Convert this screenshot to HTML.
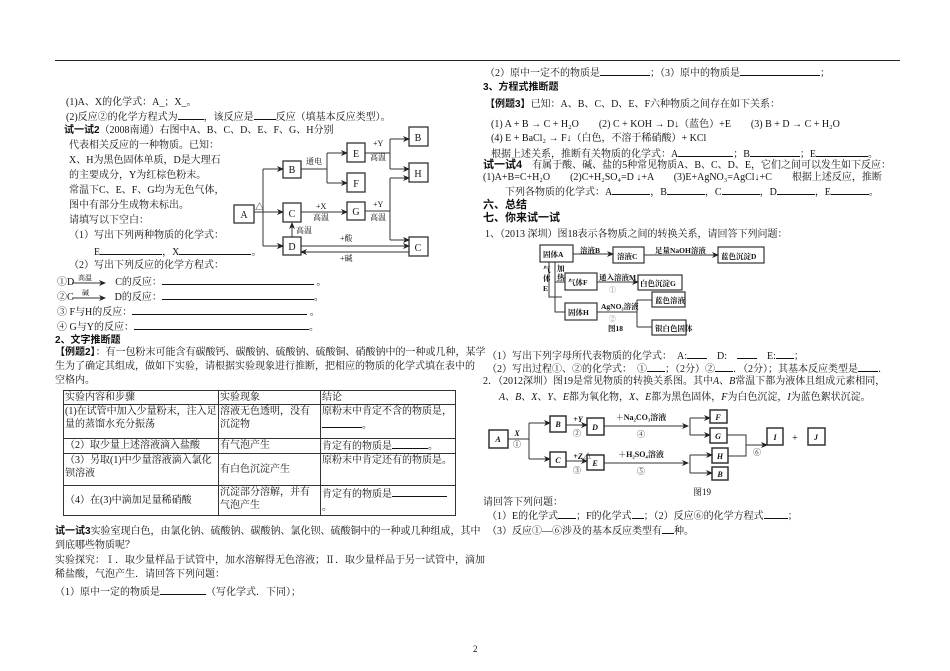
<!DOCTYPE html>
<html><head><meta charset="utf-8">
<style>
body{margin:0;background:#fff;}
#p{position:relative;width:950px;height:671px;overflow:hidden;font-family:"Liberation Serif","Noto Serif CJK SC","Noto Sans CJK SC",serif;font-size:10px;color:#111;}
.t{position:absolute;white-space:nowrap;line-height:12px;}
.b{font-weight:bold;font-family:"Liberation Sans","Noto Sans CJK SC",sans-serif;}
.u{display:inline-block;border-bottom:1px solid #111;height:9px;vertical-align:baseline;}
table{position:absolute;left:63px;top:390px;width:393px;border-collapse:collapse;font-size:10px;}
td{border:1px solid #333;padding:0 1px;line-height:13px;vertical-align:top;}
svg{position:absolute;left:0;top:0;}
svg text{font-family:"Liberation Serif","Noto Serif CJK SC",serif;}
</style></head><body><div id="p">
<div style="position:absolute;left:55px;top:60px;width:845px;border-top:1px solid #222"></div>

<div class="t" style="left:66px;top:97px">(1)A、X的化学式：A_；X_。</div>
<div class="t" style="left:66px;top:110px">(2)反应②的化学方程式为<span class="u" style="width:26px"></span>，该反应是<span class="u" style="width:22px"></span>反应（填基本反应类型）。</div>
<div class="t" style="left:64px;top:125px"><span class="b">试一试2</span>（2008南通）右图中A、B、C、D、E、F、G、H分别</div>
<div class="t" style="left:69px;top:140px">代表相关反应的一种物质。已知：</div>
<div class="t" style="left:69px;top:155px">X、H为黑色固体单质，D是大理石</div>
<div class="t" style="left:69px;top:170px">的主要成分，Y为红棕色粉末。</div>
<div class="t" style="left:69px;top:185px">常温下C、E、F、G均为无色气体，</div>
<div class="t" style="left:69px;top:200px">图中有部分生成物未标出。</div>
<div class="t" style="left:69px;top:215px">请填写以下空白：</div>
<div class="t" style="left:69px;top:230px">（1）写出下列两种物质的化学式：</div>
<div class="t" style="left:94px;top:245px">E<span class="u" style="width:62px"></span>，X<span class="u" style="width:72px"></span>。</div>
<div class="t" style="left:69px;top:260px">（2）写出下列反应的化学方程式：</div>
<div class="t" style="left:57px;top:275px">①D <span style="display:inline-block;width:36px"></span> C的反应：<span class="u" style="width:152px"></span> 。</div>
<div class="t" style="left:57px;top:290px">②C <span style="display:inline-block;width:36px"></span> D的反应：<span class="u" style="width:152px"></span>。</div>
<div class="t" style="left:57px;top:305px">③ F与H的反应：<span class="u" style="width:175px"></span> 。</div>
<div class="t" style="left:57px;top:320px">④ G与Y的反应：<span class="u" style="width:175px"></span>。</div>
<div class="t b" style="left:55px;top:335px">2、文字推断题</div>
<div class="t" style="left:55px;top:347px"><span class="b">【例题2】</span>：有一包粉末可能含有碳酸钙、碳酸钠、硫酸钠、硫酸铜、硝酸钠中的一种或几种，某学</div>
<div class="t" style="left:55px;top:361px">生为了确定其组成，做如下实验，请根据实验现象进行推断，把相应的物质的化学式填在表中的</div>
<div class="t" style="left:55px;top:375px">空格内。</div>
<table>
<tr style="height:13px"><td style="width:152px">实验内容和步骤</td><td style="width:99px">实验现象</td><td>结论</td></tr>
<tr style="height:34px"><td>(1)在试管中加入少量粉末，注入足量的蒸馏水充分振荡</td><td>溶液无色透明，没有沉淀物</td><td>原粉末中肯定不含的物质是，<span class="u" style="width:40px"></span>。</td></tr>
<tr style="height:11px"><td>（2）取少量上述溶液滴入盐酸</td><td>有气泡产生</td><td>肯定有的物质是<span class="u" style="width:36px"></span>。</td></tr>
<tr style="height:32px"><td>（3）另取(1)中少量溶液滴入氯化钡溶液</td><td style="vertical-align:middle">有白色沉淀产生</td><td>原粉末中肯定还有的物质是。</td></tr>
<tr style="height:30px"><td style="vertical-align:middle">（4）在(3)中滴加足量稀硝酸</td><td>沉淀部分溶解，并有气泡产生</td><td style="vertical-align:middle">肯定有的物质是<span class="u" style="width:55px"></span>。</td></tr>
</table>
<div class="t" style="left:55px;top:526px"><span class="b">试一试3</span>实验室现白色，由氯化钠、硫酸钠、碳酸钠、氯化钡、硫酸铜中的一种或几种组成，其中</div>
<div class="t" style="left:55px;top:540px">到底哪些物质呢？</div>
<div class="t" style="left:55px;top:555px">实验探究：Ⅰ．取少量样品于试管中，加水溶解得无色溶液；Ⅱ．取少量样品于另一试管中，滴加</div>
<div class="t" style="left:55px;top:569px">稀盐酸，气泡产生．请回答下列问题：</div>
<div class="t" style="left:55px;top:585px">（1）原中一定的物质是<span class="u" style="width:46px"></span>（写化学式．下同）；</div>

<div class="t" style="left:485px;top:66px">（2）原中一定不的物质是<span class="u" style="width:50px"></span>；（3）原中的物质是<span class="u" style="width:80px"></span>；</div>
<div class="t b" style="left:483px;top:82px">3、方程式推断题</div>
<div class="t" style="left:485px;top:99px"><span class="b">【例题3】</span>已知：A、B、C、D、E、F六种物质之间存在如下关系：</div>
<div class="t" style="left:491px;top:119px">(1) A + B → C + H₂O　　(2) C + KOH → D↓（蓝色）+E　　(3) B + D → C + H₂O</div>
<div class="t" style="left:491px;top:133px">(4) E + BaCl₂ → F↓（白色，不溶于稀硝酸）+ KCl</div>
<div class="t" style="left:491px;top:147px">根据上述关系，推断有关物质的化学式：A<span class="u" style="width:55px"></span>；B<span class="u" style="width:50px"></span>；E<span class="u" style="width:52px"></span>。</div>
<div class="t" style="left:483px;top:159px"><span class="b" style="font-size:11px">试一试4</span>　有属于酸、碱、盐的5种常见物质A、B、C、D、E，它们之间可以发生如下反应：</div>
<div class="t" style="left:483px;top:172px">(1)A+B=C+H₂O　　(2)C+H₂SO₄=D ↓+A　　(3)E+AgNO₃=AgCl↓+C　　根据上述反应，推断</div>
<div class="t" style="left:505px;top:185px">下列各物质的化学式：A<span class="u" style="width:38px"></span>，B<span class="u" style="width:38px"></span>，C<span class="u" style="width:38px"></span>，D<span class="u" style="width:38px"></span>，E<span class="u" style="width:38px"></span>。</div>
<div class="t b" style="left:483px;top:199px;font-size:11px">六、总结</div>
<div class="t b" style="left:483px;top:212px;font-size:11px">七、你来试一试</div>
<div class="t" style="left:485px;top:229px">1、（2013 深圳）图18表示各物质之间的转换关系，请回答下列问题：</div>
<div class="t" style="left:487px;top:349px">（1）写出下列字母所代表物质的化学式：　A:<span class="u" style="width:20px"></span>　D:　<span class="u" style="width:20px"></span>　E:<span class="u" style="width:18px"></span>；</div>
<div class="t" style="left:487px;top:362px">（2）写出过程①、②的化学式：　①<span class="u" style="width:18px"></span>；（2分）②<span class="u" style="width:18px"></span>．（2分）；其基本反应类型是<span class="u" style="width:20px"></span>．</div>
<div class="t" style="left:483px;top:376px">2．（2012深圳）图19是常见物质的转换关系图。其中<i>A</i>、<i>B</i>常温下都为液体且组成元素相同，</div>
<div class="t" style="left:499px;top:392px"><i>A</i>、<i>B</i>、<i>X</i>、<i>Y</i>、<i>E</i>都为氧化物，<i>X</i>、<i>E</i>都为黑色固体，<i>F</i>为白色沉淀，<i>I</i>为蓝色絮状沉淀。</div>
<div class="t" style="left:693px;top:486px;font-size:9px">图19</div>
<div class="t" style="left:483px;top:497px">请回答下列问题：</div>
<div class="t" style="left:487px;top:509px">（1）E的化学式<span class="u" style="width:18px"></span>；F的化学式<span class="u" style="width:12px"></span>；（2）反应⑥的化学方程式<span class="u" style="width:24px"></span>；</div>
<div class="t" style="left:487px;top:524px">（3）反应①—⑥涉及的基本反应类型有<span class="u" style="width:12px"></span>种。</div>
<div class="t" style="left:473px;top:643px;font-size:9px">2</div>

<svg width="950" height="671" viewBox="0 0 950 671">
<defs><marker id="a" markerWidth="7" markerHeight="6" refX="6" refY="3" orient="auto"><path d="M0,0L7,3L0,6L2,3z" fill="#222"/></marker></defs>
<g stroke="#333" stroke-width="1" fill="none">
<!-- left diagram boxes -->
<rect x="234" y="205" width="20" height="18" stroke-width="1.3"/>
<rect x="283" y="161" width="18" height="17" stroke-width="1.3"/>
<rect x="347" y="143" width="18" height="19" stroke-width="1.3"/>
<rect x="347" y="173" width="18" height="19" stroke-width="1.3"/>
<rect x="409" y="127" width="19" height="19" stroke-width="1.3"/>
<rect x="409" y="163" width="19" height="19" stroke-width="1.3"/>
<rect x="283" y="203" width="18" height="19" stroke-width="1.3"/>
<rect x="347" y="202" width="18" height="18" stroke-width="1.3"/>
<rect x="283" y="237" width="18" height="18" stroke-width="1.3"/>
<rect x="409" y="237" width="19" height="19" stroke-width="1.3"/>
<path d="M254 212H263M263 169V246"/>
<path d="M263 169H283M263 212H283M263 246H283" marker-end="url(#a)"/>
<path d="M263 169H283" marker-end="url(#a)"/><path d="M263 212H283" marker-end="url(#a)"/><path d="M263 246H283" marker-end="url(#a)"/>
<path d="M301 169H327M327 153V183"/>
<path d="M327 153H347" marker-end="url(#a)"/><path d="M327 183H347" marker-end="url(#a)"/>
<path d="M365 153H390M390 139V169"/>
<path d="M390 139H409" marker-end="url(#a)"/><path d="M390 169H409" marker-end="url(#a)"/>
<path d="M301 212H347" marker-end="url(#a)"/>
<path d="M365 211H390M390 178V240"/>
<path d="M390 178H409" marker-end="url(#a)"/><path d="M390 240H409" marker-end="url(#a)"/>
<path d="M292 237V223" marker-end="url(#a)"/>
<path d="M301 246H409" marker-end="url(#a)"/>
<path d="M409 252H301" marker-end="url(#a)"/>
<!-- small arrows in text -->
<path d="M72 283H105" marker-end="url(#a)"/><path d="M72 298H105" marker-end="url(#a)"/>
<!-- fig18 -->
<g stroke-width="1.2">
<rect x="540" y="245" width="33" height="17"/><rect x="613" y="247" width="31" height="16"/>
<rect x="718" y="247" width="46" height="16"/><rect x="565" y="273" width="32" height="17"/>
<rect x="638" y="275" width="44" height="15"/><rect x="565" y="303" width="32" height="17"/>
<rect x="652" y="292" width="33" height="15"/><rect x="652" y="320" width="34" height="15"/>
</g>
<path d="M573 254H613" marker-end="url(#a)"/><path d="M644 255H718" marker-end="url(#a)"/>
<path d="M555 262V282H565M555 282V312H565M549 262V297H562"/>
<path d="M597 282H638" marker-end="url(#a)"/>
<path d="M597 312H637M637 300V327M637 300H652M637 327H652"/>
<!-- fig19 -->
<g stroke-width="1.5">
<rect x="489" y="430" width="19" height="18"/><rect x="550" y="416" width="16" height="16"/>
<rect x="587" y="418" width="17" height="17"/><rect x="710" y="410" width="17" height="13"/>
<rect x="710" y="428" width="17" height="15"/><rect x="767" y="428" width="16" height="17"/>
<rect x="808" y="428" width="17" height="17"/><rect x="550" y="452" width="16" height="15"/>
<rect x="587" y="455" width="17" height="15"/><rect x="712" y="448" width="16" height="15"/>
<rect x="712" y="467" width="16" height="13"/>
</g>
<path d="M508 439H529M529 423V459"/>
<path d="M529 423H550" marker-end="url(#a)"/><path d="M529 459H550" marker-end="url(#a)"/>
<path d="M566 425H587" marker-end="url(#a)"/><path d="M566 461H587" marker-end="url(#a)"/>
<path d="M604 426H688" marker-end="url(#a)"/><path d="M604 463H688" marker-end="url(#a)"/>
<path d="M690 418V435M690 455V473"/>
<path d="M690 418H710" marker-end="url(#a)"/><path d="M690 435H710" marker-end="url(#a)"/>
<path d="M690 455H712" marker-end="url(#a)"/><path d="M690 473H712" marker-end="url(#a)"/>
<path d="M727 435H746V456H728"/><path d="M746 445H767" marker-end="url(#a)"/>
</g>
<g font-size="9" fill="#111">
<text x="255" y="210">△</text><text x="306" y="164" font-size="8">通电</text>
<text x="373" y="146" font-size="8">+Y</text><text x="370" y="160" font-size="8">高温</text>
<text x="316" y="209" font-size="8">+X</text><text x="313" y="220" font-size="8">高温</text>
<text x="373" y="207" font-size="8">+Y</text><text x="370" y="220" font-size="8">高温</text>
<text x="296" y="233" font-size="8">高温</text>
<text x="340" y="241" font-size="8">+酸</text><text x="340" y="261" font-size="8">+碱</text>
<g font-size="10" text-anchor="middle">
<text x="244" y="218">A</text><text x="292" y="173">B</text><text x="356" y="157">E</text>
<text x="356" y="187">F</text><text x="418" y="141">B</text><text x="418" y="177">H</text>
<text x="292" y="217">C</text><text x="356" y="215">G</text><text x="292" y="250">D</text>
<text x="418" y="251">C</text></g>
<text x="78" y="280" font-size="7">高温</text><text x="82" y="295" font-size="7">碱</text>
<!-- fig18 labels -->
<g font-size="7.5" font-weight="bold">
<text x="543" y="257">固体A</text><text x="617" y="259">溶液C</text><text x="721" y="259">蓝色沉淀D</text>
<text x="568" y="285">气体F</text><text x="640" y="286">白色沉淀G</text><text x="568" y="315">固体H</text>
<text x="655" y="303">蓝色溶液</text><text x="655" y="331">银白色固体</text>
<text x="580" y="253">溶液B</text><text x="655" y="253">足量NaOH溶液</text>
<text x="599" y="280">通入溶液M</text><text x="601" y="309">AgNO₃溶液</text>
<text x="608" y="331">图18</text>
<text x="543" y="272">气</text><text x="543" y="281">体</text><text x="543" y="291">E</text>
<text x="557" y="271">加</text><text x="557" y="280">热</text>
</g>
<text x="609" y="292" font-size="7" fill="#777">①</text><text x="609" y="321" font-size="7" fill="#777">②</text>
<!-- fig19 labels -->
<g font-size="8" font-style="italic" font-weight="bold" text-anchor="middle">
<text x="498" y="442">A</text><text x="558" y="427">B</text><text x="595" y="430">D</text>
<text x="718" y="420">F</text><text x="718" y="439">G</text><text x="775" y="440">I</text>
<text x="816" y="440">J</text><text x="558" y="463">C</text><text x="595" y="466">E</text>
<text x="720" y="459">H</text><text x="720" y="477">B</text>
<text x="517" y="436">X</text><text x="578" y="422">+Y</text><text x="582" y="459">+Z△</text>
</g>
<g font-size="8" text-anchor="middle">
<text x="517" y="447">①</text><text x="577" y="436">②</text><text x="577" y="473">③</text>
<text x="641" y="437">④</text><text x="641" y="474">⑤</text><text x="757" y="455">⑥</text>
<text x="795" y="441" font-size="10">+</text>
<text x="641" y="420" font-weight="bold">＋Na₂CO₃溶液</text><text x="641" y="457" font-weight="bold">＋H₂SO₄溶液</text>
</g>
</g>
</svg>
</div></body></html>
